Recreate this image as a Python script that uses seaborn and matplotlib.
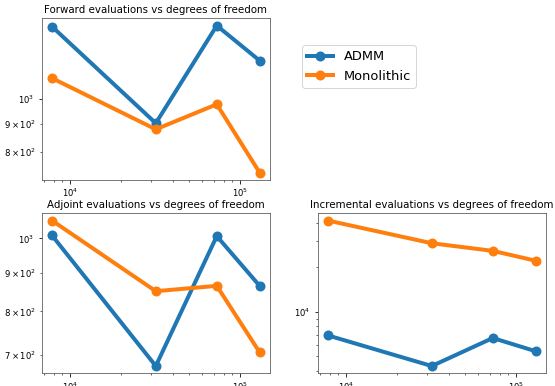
import numpy as np
import pandas as pd
import matplotlib
matplotlib.use('Agg')
import matplotlib.pyplot as plt
import seaborn as sns

dofs = [7840, 31900, 72800, 130000]
methods = ['ADMM', 'Monolithic']
forward_admm = [1358, 904, 1364, 1177]
forward_mono = [1093, 881, 979, 734]
adjoint_admm = [1009, 677, 1007, 865]
adjoint_mono = [1056, 851, 865, 706]
incr_admm = [6918, 4300, 6647, 5413]
incr_mono = [41300, 29030, 25780, 22120]
titles = ['Forward evaluations vs degrees of freedom',
          'Adjoint evaluations vs degrees of freedom',
          'Incremental evaluations vs degrees of freedom']
colors = ['#1f77b4', '#ff7f0e']


def make_df(admm, mono):
    return pd.DataFrame({
        'dofs': dofs * 2,
        'evals': list(admm) + list(mono),
        'method': [methods[0]] * len(dofs) + [methods[1]] * len(dofs),
    })


datasets = [make_df(forward_admm, forward_mono),
            make_df(adjoint_admm, adjoint_mono),
            make_df(incr_admm, incr_mono)]

plt.rcParams['font.family'] = ['DejaVu Sans']
plt.rcParams['xtick.labelsize'] = 8.5
plt.rcParams['ytick.labelsize'] = 8.5

W, H = 555, 386
fig = plt.figure(figsize=(W / 72, H / 72), dpi=72)
positions = [[0.0751, 0.5337, 0.4114, 0.419],
             [0.0751, 0.0329, 0.4114, 0.4145],
             [0.5724, 0.0329, 0.4114, 0.4145]]

axes = []
for pos, df, title in zip(positions, datasets, titles):
    ax = fig.add_axes(pos)
    sns.lineplot(data=df, x='dofs', y='evals', hue='method', palette=colors,
                 marker='o', markersize=10, linewidth=4, mew=0, legend=False, ax=ax)
    ax.set_xscale('log')
    ax.set_yscale('log')
    ax.set_xlabel('')
    ax.set_ylabel('')
    ax.set_title(title, fontsize=10.3, pad=5)
    for s in ax.spines.values():
        s.set_color('0.35')
        s.set_linewidth(0.8)
    axes.append(ax)

handles = axes[0].get_lines()[:2]
fig.legend(handles, methods, loc='upper left',
           bbox_to_anchor=(302 / W, 1 - 45 / H), fontsize=13,
           borderaxespad=0)

fig.savefig('out.png', dpi=72)
